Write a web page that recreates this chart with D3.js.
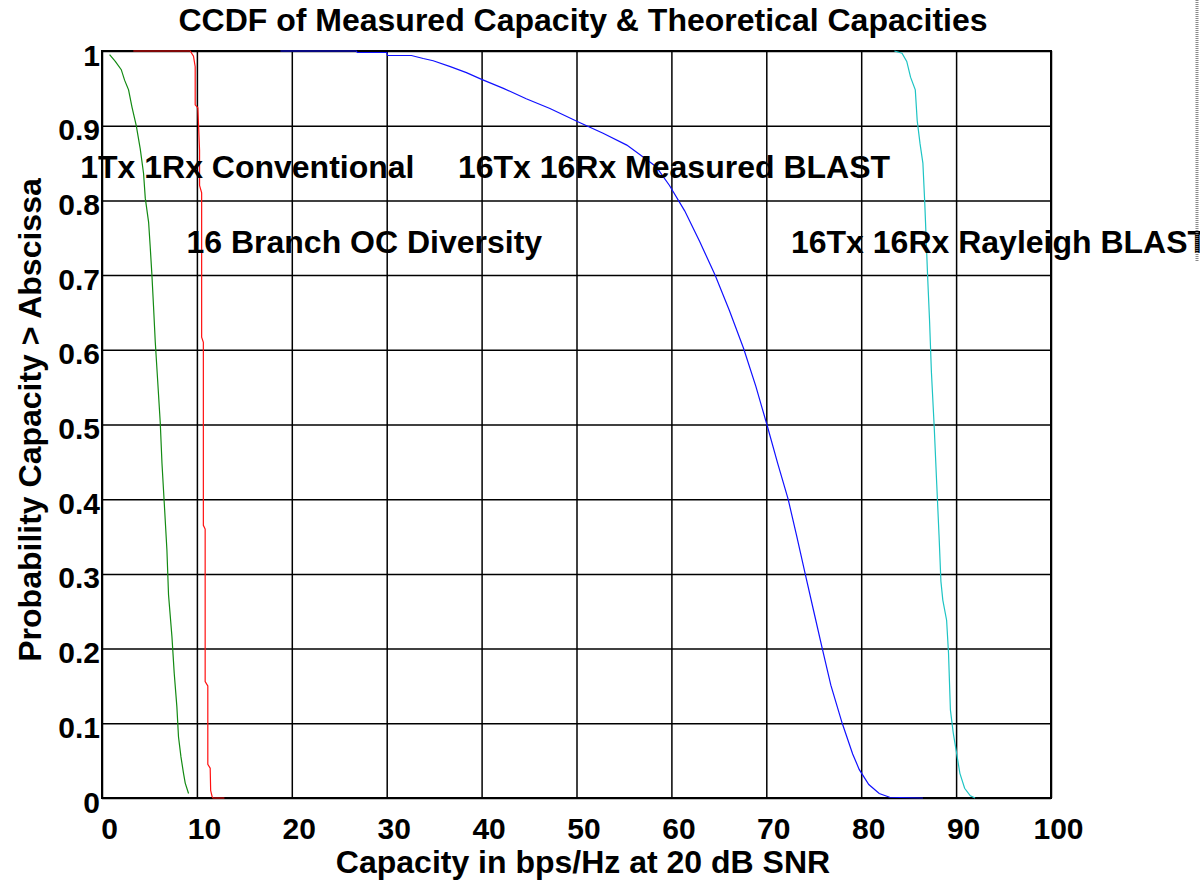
<!DOCTYPE html>
<html>
<head>
<meta charset="utf-8">
<script src="https://cdn.jsdelivr.net/npm/d3@7"></script>
<style>
  body { margin: 0; background: #fff; }
  text { font-family: "Liberation Sans", Arial, sans-serif; font-weight: bold; fill: #000; }
</style>
</head>
<body>
<svg id="chart" width="1200" height="881"></svg>
<script>
// [capacity, probability]
var conventional = [[0.8, 0.995], [1.4, 0.986], [2.03, 0.975], [2.38, 0.961], [2.8, 0.948], [3.16, 0.925],
  [3.61, 0.9], [4.03, 0.869], [4.38, 0.836], [4.56, 0.803], [4.91, 0.771], [5.08, 0.738], [5.26, 0.70],
  [5.43, 0.658], [5.61, 0.611], [5.86, 0.56], [6.14, 0.502], [6.32, 0.448], [6.56, 0.395], [6.84, 0.332],
  [7.01, 0.272], [7.37, 0.216], [7.61, 0.167], [7.89, 0.122], [8.06, 0.082], [8.32, 0.055], [8.59, 0.033],
  [8.77, 0.02], [9.12, 0.006]]

var diversity = [[3.3, 1], [9.3, 1], [9.64, 0.993], [9.82, 0.979], [9.82, 0.928], [10.1, 0.924], [10.28, 0.867],
  [10.28, 0.82], [10.5, 0.81], [10.5, 0.617], [10.68, 0.61], [10.68, 0.365], [10.87, 0.36], [10.87, 0.156],
  [11.15, 0.15], [11.15, 0.045], [11.4, 0.04], [11.45, 0.01], [11.6, 0.002], [11.7, 0], [12.9, 0]]

var measured = [[18.8, 1], [26.8, 1], [26.9, 0.998], [30.0, 0.998], [30.1, 0.994], [32.6, 0.994], [33.85, 0.99],
  [34.9, 0.987], [36.7, 0.979], [38.4, 0.971], [40.0, 0.962], [42.3, 0.95], [44.7, 0.936], [47.2, 0.923],
  [50.2, 0.905], [52.8, 0.89], [55.3, 0.874], [56.7, 0.861], [58.4, 0.845], [59.8, 0.82], [61.4, 0.786],
  [62.98, 0.745], [64.6, 0.7], [66.1, 0.653], [67.6, 0.602], [68.9, 0.551], [70.06, 0.5], [71.2, 0.448],
  [72.3, 0.4], [73.2, 0.351], [74.1, 0.3], [74.98, 0.251], [75.9, 0.2], [76.8, 0.151], [78.0, 0.1],
  [79.1, 0.059], [79.8, 0.038], [80.8, 0.018], [81.9, 0.006], [83.0, 0.001], [86.5, 0]]

var rayleigh = [[83.5, 1.0], [84.3, 0.997], [84.8, 0.986], [85.2, 0.965], [85.7, 0.948], [85.9, 0.907],
  [86.2, 0.876], [86.5, 0.85], [86.7, 0.796], [87.0, 0.698], [87.2, 0.64], [87.4, 0.57], [87.7, 0.495],
  [87.96, 0.42], [88.2, 0.352], [88.4, 0.29], [88.6, 0.265], [89.0, 0.238], [89.2, 0.194], [89.4, 0.118],
  [89.7, 0.087], [90.0, 0.064], [90.4, 0.033], [90.9, 0.013], [91.5, 0.003], [92.0, 0]]

var xTicks = [0, 10, 20, 30, 40, 50, 60, 70, 80, 90, 100]
var yTicks = [0, 0.1, 0.2, 0.3, 0.4, 0.5, 0.6, 0.7, 0.8, 0.9, 1]

var series = [
  {data: conventional, color: "#138a13"},
  {data: diversity, color: "#ff1010"},
  {data: measured, color: "#1010ff"},
  {data: rayleigh, color: "#1ec4c4"}
]

// labels placed in data coords
var notes = [
  {text: "1Tx 1Rx Conventional", x: -2.3, y: 0.83},
  {text: "16Tx 16Rx Measured BLAST", x: 37.5, y: 0.83},
  {text: "16 Branch OC Diversity", x: 8.9, y: 0.73},
  {text: "16Tx 16Rx Rayleigh BLAST", x: 72.6, y: 0.73}
]

var margin = {top: 51, right: 149, bottom: 83, left: 102}
var width = 1200 - margin.left - margin.right
var height = 881 - margin.top - margin.bottom

var svg = d3.select("#chart")

var x = d3.scaleLinear().domain([0, 100]).range([0, width])
var y = d3.scaleLinear().domain([0, 1]).range([height, 0])

var main = svg.append("g")
  .attr("transform", "translate(" + margin.left + "," + margin.top + ")")

// grid
main.append("g")
  .attr("class", "grid")
  .attr("transform", "translate(0," + height + ")")
  .call(d3.axisBottom(x).tickValues(xTicks).tickSize(-height).tickFormat(""))
  .call(function(g) { g.select(".domain").remove() })
main.append("g")
  .attr("class", "grid")
  .call(d3.axisLeft(y).tickValues(yTicks).tickSize(-width).tickFormat(""))
  .call(function(g) { g.select(".domain").remove() })
main.selectAll(".grid line").attr("stroke", "#000").attr("stroke-width", 1.5)

// frame
main.append("rect")
  .attr("width", width).attr("height", height)
  .attr("fill", "none").attr("stroke", "#000").attr("stroke-width", 2)

// tick labels
var xAxis = main.append("g")
  .attr("transform", "translate(0," + height + ")")
  .call(d3.axisBottom(x).tickValues(xTicks).tickSize(0).tickPadding(0).tickFormat(d3.format("d")))
xAxis.select(".domain").remove()
xAxis.selectAll("text")
  .attr("dy", null).attr("y", 41).attr("dx", 7)
  .style("font-size", "30px").style("font-family", "Liberation Sans, Arial").style("font-weight", "bold")

var yAxis = main.append("g")
  .call(d3.axisLeft(y).tickValues(yTicks).tickSize(0).tickPadding(2).tickFormat(function(d) { return d3.format("")(+d.toFixed(1)) }))
yAxis.select(".domain").remove()
yAxis.selectAll("text")
  .attr("dy", null).attr("y", 14)
  .style("font-size", "30px").style("font-family", "Liberation Sans, Arial").style("font-weight", "bold")

// curves, on top of the frame like the original
var line = d3.line()
  .x(function(d) { return x(d[0]) })
  .y(function(d) { return y(d[1]) })

series.forEach(function(s) {
  main.append("path")
    .datum(s.data)
    .attr("fill", "none")
    .attr("stroke", s.color)
    .attr("stroke-width", 1.2)
    .attr("d", line)
})

// annotations
main.selectAll(".note")
  .data(notes)
  .enter().append("text")
  .attr("class", "note")
  .attr("x", function(d) { return x(d.x) })
  .attr("y", function(d) { return y(d.y) })
  .style("font-size", "32px")
  .text(function(d) { return d.text })

// titles
svg.append("text")
  .attr("x", 583).attr("y", 31)
  .attr("text-anchor", "middle")
  .style("font-size", "32px")
  .text("CCDF of Measured Capacity & Theoretical Capacities")

svg.append("text")
  .attr("x", 583).attr("y", 873)
  .attr("text-anchor", "middle")
  .style("font-size", "32px")
  .text("Capacity in bps/Hz at 20 dB SNR")

svg.append("text")
  .attr("transform", "translate(41,420) rotate(-90)")
  .attr("text-anchor", "middle")
  .style("font-size", "32px")
  .text("Probability Capacity > Abscissa")

// dotted edge at the far right
svg.append("line")
  .attr("x1", 1197).attr("x2", 1197).attr("y1", 0).attr("y2", 262)
  .attr("stroke", "#888").attr("stroke-width", 3).attr("stroke-dasharray", "1,1")
</script>
</body>
</html>
